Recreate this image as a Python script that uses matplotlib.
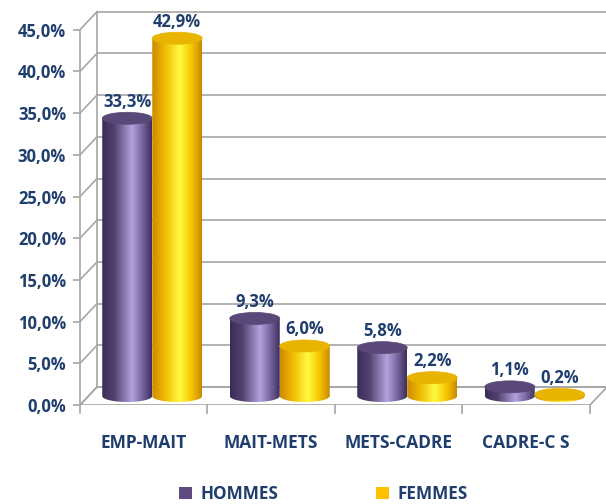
import numpy as np
import matplotlib
matplotlib.use("Agg")
import matplotlib.pyplot as plt
from matplotlib.path import Path
from matplotlib.patches import Ellipse, Polygon, Patch
from matplotlib.colors import LinearSegmentedColormap

categories = ["EMP-MAIT", "MAIT-METS", "METS-CADRE", "CADRE-C S"]
hommes = [33.3, 9.3, 5.8, 1.1]
femmes = [42.9, 6.0, 2.2, 0.2]
series_names = ["HOMMES", "FEMMES"]
yticks = [0, 5, 10, 15, 20, 25, 30, 35, 40, 45]

plt.rcParams["font.family"] = ["Open Sans", "DejaVu Sans"]
TXT = "#1F3E6E"
GRID = "#A6A6A6"
FS = 12

W, H = 606, 504
fig = plt.figure(figsize=(W / 100, H / 100), dpi=100)
# axes: front-left corner of the floor sits at the axes origin
left_px, bottom_px = 80, 99
ax = fig.add_axes([left_px / W, bottom_px / H, (W - left_px) / W, (H - bottom_px) / H])
px_per_cat = 127.5
px_per_pct = 8.34
xmin = -0.5
ax.set_xlim(xmin, xmin + (W - left_px) / px_per_cat)
ax.set_ylim(0, (H - bottom_px) / px_per_pct)

# depth of the 3D box in data units
dx = 17 / px_per_cat
dy = 18 / px_per_pct
xmax = len(categories) - 0.5

# floor
ax.add_patch(Polygon([(xmin, 0), (xmax, 0), (xmax + dx, dy), (xmin + dx, dy)],
                     closed=True, facecolor="white", edgecolor=GRID, lw=1.2, zorder=1))
# back wall gridlines and side wall diagonals
for v in yticks:
    ax.plot([xmin + dx, ax.get_xlim()[1] + 0.1], [v + dy, v + dy], color=GRID, lw=1.2, zorder=1,
            clip_on=False)
    ax.plot([xmin, xmin + dx], [v, v + dy], color=GRID, lw=1.2, zorder=1)
ax.plot([xmin + dx, xmin + dx], [dy, yticks[-1] + dy], color=GRID, lw=1.2, zorder=1)
# category separator ticks on the front edge
for b in np.arange(xmin, xmax + 0.01, 1.0):
    ax.plot([b, b], [0, -1.0], color=GRID, lw=1.2, zorder=1, clip_on=False)

# axis styling
for s in ["top", "right", "bottom"]:
    ax.spines[s].set_visible(False)
ax.spines["left"].set_bounds(0, yticks[-1])
ax.spines["left"].set_color(GRID)
ax.spines["left"].set_linewidth(1.2)
ax.set_yticks(yticks)
ax.set_yticklabels([f"{v:.1f}%".replace(".", ",") for v in yticks],
                   fontsize=FS, fontweight="bold", color=TXT)
ax.tick_params(axis="y", length=5, color=GRID, width=1.2, pad=5)
ax.set_xticks(range(len(categories)))
ax.set_xticklabels(categories, fontsize=12.5, fontweight="bold", color=TXT)
ax.tick_params(axis="x", length=0, pad=21)

cmap_h = LinearSegmentedColormap.from_list("h", [
    (0.0, "#3A2C58"), (0.25, "#524270"), (0.6, "#B4A2DC"), (0.8, "#7A68A2"), (1.0, "#3C2E5C")])
cmap_f = LinearSegmentedColormap.from_list("f", [
    (0.0, "#CC8A00"), (0.25, "#F0B800"), (0.55, "#FFFA40"), (0.8, "#F5C400"), (1.0, "#C88800")])
top_h = "#5A4878"
top_f = "#E8B400"

bw = 50 / px_per_cat
eh = 12 / px_per_pct
base = dy / 2
grad = np.linspace(0, 1, 256).reshape(1, -1)


def cylinder(xc, val, cmap, topc, z):
    x0, x1 = xc - bw / 2, xc + bw / 2
    top = base + val
    t = np.linspace(np.pi, 2 * np.pi, 60)
    arc = np.column_stack([xc + bw / 2 * np.cos(t), base + eh / 2 * np.sin(t)])
    verts = np.vstack([[(x0, top)], arc, [(x1, top)], [(x0, top)]])
    path = Path(verts, closed=True)
    im = ax.imshow(grad, cmap=cmap, extent=[x0, x1, base - eh / 2, top], aspect="auto",
                   zorder=z, interpolation="bilinear")
    im.set_clip_path(path, transform=ax.transData)
    ax.add_patch(Ellipse((xc, top), bw, eh, facecolor=topc, edgecolor=topc, lw=0.5, zorder=z + 0.1))


for i in range(len(categories)):
    ch = i + dx / 2 - bw / 2
    cf = i + dx / 2 + bw / 2
    cylinder(ch, hommes[i], cmap_h, top_h, 3)
    cylinder(cf, femmes[i], cmap_f, top_f, 4)
    for xc, v in ((ch, hommes[i]), (cf, femmes[i])):
        ax.text(xc, base + v + eh / 2 + 0.2, f"{v:.1f}%".replace(".", ","), ha="center",
                va="bottom", fontsize=FS, fontweight="bold", color=TXT, zorder=6)

ax.set_xlim(xmin, xmin + (W - left_px) / px_per_cat)
ax.set_ylim(0, (H - bottom_px) / px_per_pct)

handles = [Patch(facecolor="#5E4C80"), Patch(facecolor="#FFC000")]
fig.legend(handles, series_names, loc="center", bbox_to_anchor=(0.534, 0.02), ncol=2,
           frameon=False, handlelength=0.75, handleheight=0.75, handletextpad=0.5,
           columnspacing=5.7, prop={"size": 12.3, "weight": "bold"}, labelcolor=TXT)

fig.savefig("out.png", dpi=100)
